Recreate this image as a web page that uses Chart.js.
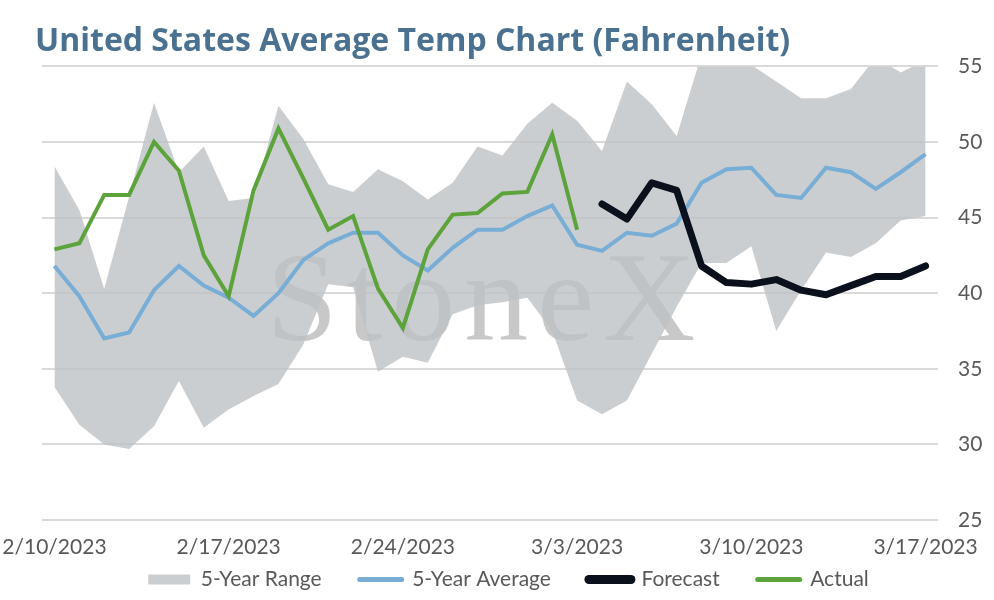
<!DOCTYPE html>
<html>
<head>
<meta charset="utf-8">
<script src="https://cdn.jsdelivr.net/npm/chart.js@4/dist/chart.umd.min.js"></script>
<style>
  html, body { margin: 0; padding: 0; background: #fff; }
</style>
</head>
<body>
<canvas id="tempChart" width="994" height="600"></canvas>
<script>
const dates = [
  "2/10/2023", "2/11/2023", "2/12/2023", "2/13/2023", "2/14/2023", "2/15/2023", "2/16/2023",
  "2/17/2023", "2/18/2023", "2/19/2023", "2/20/2023", "2/21/2023", "2/22/2023", "2/23/2023",
  "2/24/2023", "2/25/2023", "2/26/2023", "2/27/2023", "2/28/2023", "3/1/2023", "3/2/2023",
  "3/3/2023", "3/4/2023", "3/5/2023", "3/6/2023", "3/7/2023", "3/8/2023", "3/9/2023",
  "3/10/2023", "3/11/2023", "3/12/2023", "3/13/2023", "3/14/2023", "3/15/2023", "3/16/2023",
  "3/17/2023"
];

const rangeLow = [33.8, 31.3, 30.0, 29.7, 31.2, 34.2, 31.1, 32.3, 33.2, 34.0, 36.6, 40.6,
  40.4, 34.8, 35.8, 35.4, 38.6, 39.2, 39.4, 39.7, 37.5, 32.9, 32.0, 32.9, 36.0, 39.1,
  42.0, 42.0, 43.1, 37.5, 40.2, 42.7, 42.4, 43.3, 44.8, 45.1];

const rangeHigh = [48.4, 45.5, 40.3, 46.4, 52.6, 48.0, 49.7, 46.1, 46.3, 52.4, 50.2, 47.2,
  46.7, 48.2, 47.4, 46.2, 47.3, 49.7, 49.1, 51.2, 52.6, 51.4, 49.4, 54.0, 52.5, 50.4,
  55.8, 56.5, 55.1, 54.0, 52.9, 52.9, 53.5, 55.6, 54.6, 55.4];

const avg5 = [41.8, 39.8, 37.0, 37.4, 40.2, 41.8, 40.5, 39.7, 38.5, 40.0, 42.2, 43.3,
  44.0, 44.0, 42.5, 41.5, 43.0, 44.2, 44.2, 45.1, 45.8, 43.2, 42.8, 44.0, 43.8, 44.6,
  47.3, 48.2, 48.3, 46.5, 46.3, 48.3, 48.0, 46.9, 48.0, 49.2];

const forecast = [null, null, null, null, null, null, null, null, null, null, null, null,
  null, null, null, null, null, null, null, null, null, null, 45.9, 44.9, 47.3, 46.8,
  41.8, 40.7, 40.6, 40.9, 40.2, 39.9, 40.5, 41.1, 41.1, 41.8];

const actual = [42.9, 43.3, 46.5, 46.5, 50.0, 48.1, 42.5, 39.8, 46.8, 50.9, 47.6, 44.2,
  45.1, 40.3, 37.7, 42.9, 45.2, 45.3, 46.6, 46.7, 50.5, 44.2, null, null, null, null,
  null, null, null, null, null, null, null, null, null, null];

const yTicks = [25, 30, 35, 40, 45, 50, 55];

const BAND = "rgba(190,194,196,0.8)";
const BLUE = "#78add6";
const BLACK = "#0a111c";
const GREEN = "#5da33c";
const TXT = "#595959";
const FONT = "Lato";

// watermark sits under the band, above the gridlines
const watermark = {
  id: "watermark",
  beforeDatasetsDraw(chart) {
    const a = chart.chartArea;
    const ctx = chart.ctx;
    ctx.save();
    ctx.font = '128px "Liberation Serif"';
    ctx.fillStyle = "rgb(200,200,200)";
    ctx.letterSpacing = "9px";
    ctx.textAlign = "center";
    ctx.textBaseline = "alphabetic";
    ctx.fillText("StoneX", a.left + a.width * 0.495, a.top + a.height * 0.603);
    ctx.restore();
  }
};

// legend keeps wide item spacing but sits just under the date labels
const legendShift = {
  id: "legendShift",
  afterLayout(chart) {
    const lg = chart.legend;
    lg.top = lg.bottom - 69;
  }
};

const chart = new Chart(document.getElementById("tempChart"), {
  type: "line",
  data: {
    labels: dates,
    datasets: [
      { label: "low", data: rangeLow, borderColor: "rgba(0,0,0,0)", borderWidth: 0,
        pointRadius: 0, fill: false, order: 5 },
      { label: "5-Year Range", data: rangeHigh, borderColor: "rgba(0,0,0,0)", borderWidth: 0,
        pointRadius: 0, backgroundColor: BAND, fill: "-1", order: 4 },
      { label: "5-Year Average", data: avg5, borderColor: BLUE, borderWidth: 4,
        pointRadius: 0, fill: false, order: 3 },
      { label: "Forecast", data: forecast, borderColor: BLACK, borderWidth: 7,
        borderCapStyle: "round", borderJoinStyle: "round", pointRadius: 0, fill: false, order: 1 },
      { label: "Actual", data: actual, borderColor: GREEN, borderWidth: 4,
        pointRadius: 0, fill: false, order: 2 }
    ]
  },
  options: {
    responsive: false,
    animation: false,
    spanGaps: false,
    layout: { padding: { left: 35, right: 12, top: 10, bottom: 0 } },
    scales: {
      x: {
        offset: true,
        grid: { display: false, drawTicks: false },
        border: { display: false },
        ticks: {
          autoSkip: false,
          maxRotation: 0,
          padding: 15,
          color: TXT,
          font: { family: FONT, size: 21 },
          callback: (v, i) => (i % 7 === 0 ? dates[i] : "")
        },
        afterFit: s => { s.paddingLeft = 0; s.paddingRight = 0; s.height = 44; }
      },
      y: {
        position: "right",
        min: 25,
        max: 55,
        afterBuildTicks: s => { s.ticks = yTicks.map(v => ({ value: v })); },
        grid: { color: "#d9d9d9", lineWidth: 2, drawTicks: false },
        border: { display: false },
        ticks: { padding: 20, color: TXT, font: { family: FONT, size: 21 } },
        afterFit: s => { s.width = 44; }
      },
      pad: {
        position: "left",
        grid: { display: false, drawTicks: false },
        border: { display: false },
        ticks: { display: false },
        afterFit: s => { s.width = 7; }
      }
    },
    plugins: {
      title: {
        display: true,
        text: "United States Average Temp Chart (Fahrenheit)",
        align: "start",
        color: "#4a7190",
        font: { family: "Open Sans", size: 32, weight: "bold" },
        padding: { top: 13, bottom: 5 }
      },
      legend: {
        position: "bottom",
        maxHeight: 36,
        labels: {
          usePointStyle: true,
          pointStyleWidth: 42,
          boxHeight: 10,
          padding: 38,
          color: TXT,
          font: { family: FONT, size: 21 },
          generateLabels: () => [
            { text: "5-Year Range", fillStyle: BAND, strokeStyle: "rgba(0,0,0,0)", lineWidth: 0,
              pointStyle: "rect", fontColor: TXT, datasetIndex: 1 },
            { text: "5-Year Average", fillStyle: BLUE, strokeStyle: BLUE, lineWidth: 5,
              lineCap: "round", pointStyle: "line", fontColor: TXT, datasetIndex: 2 },
            { text: "Forecast", fillStyle: BLACK, strokeStyle: BLACK, lineWidth: 9,
              lineCap: "round", pointStyle: "line", fontColor: TXT, datasetIndex: 3 },
            { text: "Actual", fillStyle: GREEN, strokeStyle: GREEN, lineWidth: 5,
              lineCap: "round", pointStyle: "line", fontColor: TXT, datasetIndex: 4 }
          ]
        }
      },
      tooltip: { enabled: false }
    }
  },
  plugins: [watermark, legendShift]
});
</script>
</body>
</html>
